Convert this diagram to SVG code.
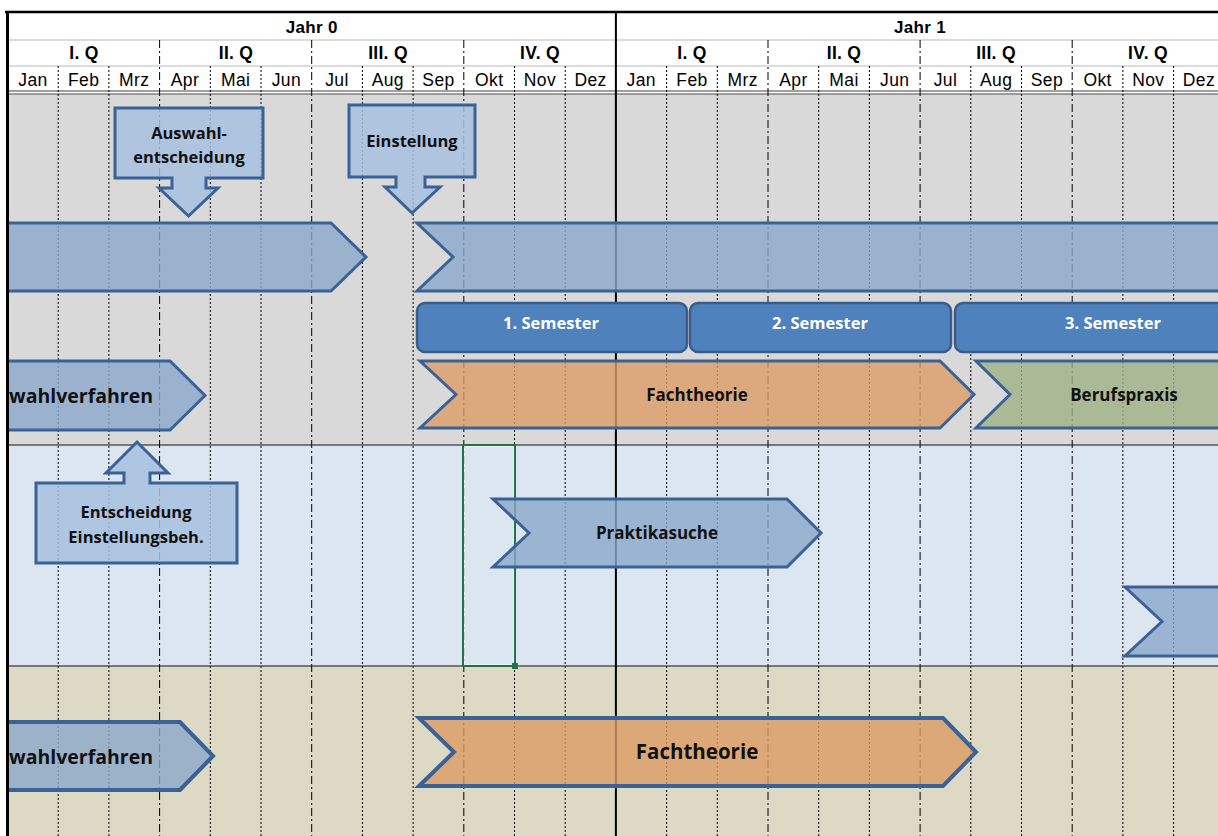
<svg xmlns="http://www.w3.org/2000/svg" width="1218" height="836" viewBox="0 0 1218 836">
<style>
.hdr{font-family:"Liberation Sans",Arial,sans-serif;fill:#000;text-anchor:middle}
.yr{font-size:17px;font-weight:bold;letter-spacing:0.3px}
.q{font-size:17.5px;font-weight:bold;letter-spacing:0.3px}
.m{font-size:17.5px;letter-spacing:0.4px}
.mo{stroke:#000;stroke-width:1;stroke-dasharray:2,2}
.qu{stroke:#000;stroke-width:1;stroke-dasharray:8,3,2,3}
.sh{font-family:"Open Sans",Lato,sans-serif;font-weight:bold;text-anchor:middle;fill:#111}
.bar{fill:#8ba7ca;fill-opacity:0.8;stroke:#3b6296;stroke-width:3;stroke-linejoin:miter}
.call{fill:#a6bfdf;fill-opacity:0.85;stroke:#3b6296;stroke-width:3}
.org{fill:#dc9b65;fill-opacity:0.8;stroke:#3b6296;stroke-width:3}
.grn{fill:#9eb185;fill-opacity:0.8;stroke:#3b6296;stroke-width:3}
.sem{fill:#4f81bd;stroke:#385d8a;stroke-width:2.5}
.semt{font-family:"Open Sans",Lato,sans-serif;font-weight:bold;text-anchor:middle;fill:#fff;font-size:16.5px}
</style>
<rect x="0" y="0" width="1218" height="836" fill="#fff"/>
<g id="bands">
<rect x="8" y="94" width="1210" height="351" fill="#d9d9d9"/>
<rect x="8" y="445" width="1210" height="221" fill="#dce6f1"/>
<rect x="8" y="666" width="1210" height="170" fill="#ddd9c4"/>
</g>
<g id="grid">
<line x1="8" y1="40" x2="1218" y2="40" stroke="#d0d0d0" stroke-width="1.5"/>
<line x1="8" y1="66" x2="1218" y2="66" stroke="#d0d0d0" stroke-width="1.5"/>
<line x1="8" y1="91" x2="1218" y2="91" stroke="#808080" stroke-width="1.5"/>
<line x1="8" y1="94" x2="1218" y2="94" stroke="#808080" stroke-width="1.5"/>
<line x1="8" y1="445" x2="1218" y2="445" stroke="#555" stroke-width="1.5"/>
<line x1="8" y1="666" x2="1218" y2="666" stroke="#555" stroke-width="1.5"/>
<g class="mo">
<line x1="58.2" y1="66" x2="58.2" y2="836"/><line x1="108.9" y1="66" x2="108.9" y2="836"/>
<line x1="210.3" y1="66" x2="210.3" y2="836"/><line x1="261" y1="66" x2="261" y2="836"/>
<line x1="362.4" y1="66" x2="362.4" y2="836"/><line x1="413.1" y1="66" x2="413.1" y2="836"/>
<line x1="514.5" y1="66" x2="514.5" y2="836"/><line x1="565.2" y1="66" x2="565.2" y2="836"/>
<line x1="666.6" y1="66" x2="666.6" y2="836"/><line x1="717.3" y1="66" x2="717.3" y2="836"/>
<line x1="818.7" y1="66" x2="818.7" y2="836"/><line x1="869.4" y1="66" x2="869.4" y2="836"/>
<line x1="970.8" y1="66" x2="970.8" y2="836"/><line x1="1021.5" y1="66" x2="1021.5" y2="836"/>
<line x1="1122.9" y1="66" x2="1122.9" y2="836"/><line x1="1173.6" y1="66" x2="1173.6" y2="836"/>
</g>
<g class="qu">
<line x1="159.6" y1="40" x2="159.6" y2="836"/><line x1="311.7" y1="40" x2="311.7" y2="836"/>
<line x1="463.8" y1="40" x2="463.8" y2="836"/>
<line x1="768" y1="40" x2="768" y2="836"/><line x1="920.1" y1="40" x2="920.1" y2="836"/>
<line x1="1072.2" y1="40" x2="1072.2" y2="836"/>
</g>
<line x1="615.9" y1="12" x2="615.9" y2="836" stroke="#000" stroke-width="2"/>
</g>
<g id="header">
<text class="hdr yr" x="311.8" y="33">Jahr 0</text>
<text class="hdr yr" x="920" y="33">Jahr 1</text>
<text class="hdr q" x="84" y="59">I. Q</text>
<text class="hdr q" x="236" y="59">II. Q</text>
<text class="hdr q" x="388" y="59">III. Q</text>
<text class="hdr q" x="540" y="59">IV. Q</text>
<text class="hdr q" x="692" y="59">I. Q</text>
<text class="hdr q" x="844" y="59">II. Q</text>
<text class="hdr q" x="996" y="59">III. Q</text>
<text class="hdr q" x="1148" y="59">IV. Q</text>
<g class="hdr m">
<text x="33" y="86">Jan</text><text x="83.6" y="86">Feb</text><text x="134.3" y="86">Mrz</text>
<text x="185" y="86">Apr</text><text x="235.7" y="86">Mai</text><text x="286.4" y="86">Jun</text>
<text x="337" y="86">Jul</text><text x="387.8" y="86">Aug</text><text x="438.5" y="86">Sep</text>
<text x="489.2" y="86">Okt</text><text x="539.9" y="86">Nov</text><text x="590.6" y="86">Dez</text>
<text x="641.3" y="86">Jan</text><text x="692" y="86">Feb</text><text x="742.7" y="86">Mrz</text>
<text x="793.4" y="86">Apr</text><text x="844" y="86">Mai</text><text x="894.8" y="86">Jun</text>
<text x="945.5" y="86">Jul</text><text x="996.2" y="86">Aug</text><text x="1046.9" y="86">Sep</text>
<text x="1097.6" y="86">Okt</text><text x="1148.3" y="86">Nov</text><text x="1199" y="86">Dez</text>
</g>
</g>
<g id="callout-auswahlentscheidung">
<path class="call" d="M115,108 H263 V178 H206 V188 H218 L188.5,216 L159,188 H172 V178 H115 Z"/>
<text class="sh" x="189" y="139" font-size="16.5">Auswahl-</text>
<text class="sh" x="189" y="163" font-size="16.5">entscheidung</text>
</g>
<g id="callout-einstellung">
<path class="call" d="M349,105 H475 V177 H425 V187 H440 L412,213 L385,187 H396 V177 H349 Z"/>
<text class="sh" x="412" y="147" font-size="16.5">Einstellung</text>
</g>
<g id="bar-row1-left">
<path class="bar" d="M4,223 H331 L366,257 L331,291 H4 Z"/>
</g>
<g id="bar-row1-right">
<path class="bar" d="M417,223 H1232 V291 H417 L453,257 Z"/>
</g>
<g id="semester-1">
<rect class="sem" x="417" y="303" width="270" height="49" rx="8"/>
<text class="semt" x="551" y="329">1. Semester</text>
</g>
<g id="semester-2">
<rect class="sem" x="690" y="303" width="261" height="49" rx="8"/>
<text class="semt" x="820" y="329">2. Semester</text>
</g>
<g id="semester-3">
<rect class="sem" x="955" y="303" width="280" height="49" rx="8"/>
<text class="semt" x="1113" y="329">3. Semester</text>
</g>
<g id="auswahlverfahren-top">
<path class="bar" d="M4,361 H170 L205,395.5 L170,430 H4 Z"/>
<text class="sh" x="9" y="402.5" font-size="19.5" style="text-anchor:start">wahlverfahren</text>
</g>
<g id="fachtheorie-top">
<path class="org" d="M420,361 H940 L974,394.5 L940,428 H420 L456,394.5 Z"/>
<text class="sh" x="697" y="400.5" font-size="17">Fachtheorie</text>
</g>
<g id="berufspraxis">
<path class="grn" d="M976,361 H1232 V428 H976 L1010,394.5 Z"/>
<text class="sh" x="1124" y="400.5" font-size="17">Berufspraxis</text>
</g>
<g id="callout-entscheidung">
<path class="call" d="M36,483 H124 V473 H106 L137,442 L168,473 H150 V483 H237 V563 H36 Z"/>
<text class="sh" x="136" y="517.5" font-size="16.5">Entscheidung</text>
<text class="sh" x="136" y="542.5" font-size="16.5">Einstellungsbeh.</text>
</g>
<g id="selection">
<rect x="464" y="446" width="50" height="219" fill="none" stroke="#fff" stroke-width="1"/>
<rect x="463" y="445" width="52" height="221" fill="none" stroke="#217346" stroke-width="2"/>
<rect x="512" y="663" width="6" height="6" fill="#217346"/>
</g>
<g id="praktikasuche">
<path class="bar" d="M493,499 H787 L821,533 L787,567 H493 L529,533 Z"/>
<text class="sh" x="657" y="539" font-size="17">Praktikasuche</text>
</g>
<g id="bar-row-blue-right">
<path class="bar" d="M1125,587 H1232 V656 H1125 L1162,621.5 Z"/>
</g>
<g id="auswahlverfahren-bottom">
<path class="bar" d="M4,722 H180 L213,756 L180,790 H4 Z" style="stroke-width:4"/>
<text class="sh" x="9" y="763.5" font-size="19.5" style="text-anchor:start">wahlverfahren</text>
</g>
<g id="fachtheorie-bottom">
<path class="org" d="M419,718 H943 L976,752 L943,786 H419 L454,752 Z" style="stroke-width:4"/>
<text class="sh" x="697" y="759" font-size="20.5">Fachtheorie</text>
</g>
<g id="connectors"/>
<g id="frame">
<rect x="0" y="0" width="6" height="836" fill="#fff"/>
<line x1="5" y1="12" x2="1218" y2="12" stroke="#000" stroke-width="2.5"/>
<line x1="7.5" y1="11" x2="7.5" y2="836" stroke="#000" stroke-width="3"/>
</g>
</svg>
